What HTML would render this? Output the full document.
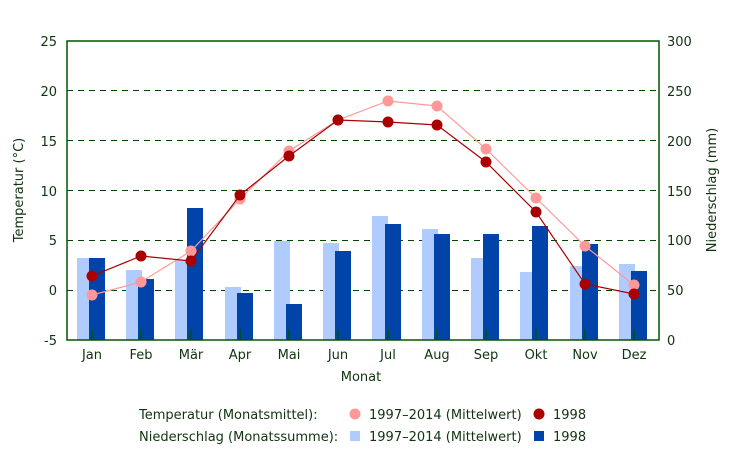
<!DOCTYPE html><html><head><meta charset="utf-8"><style>body{margin:0;background:#fff}svg{display:block}text{font-family:"DejaVu Sans","Liberation Sans",sans-serif;font-size:13px;fill:#113311}</style></head><body>
<svg width="733" height="461" xmlns="http://www.w3.org/2000/svg">
<g stroke="#004400" stroke-dasharray="6,5" stroke-width="1">
<line x1="67" x2="659" y1="90.5" y2="90.5"/><line x1="67" x2="659" y1="140.5" y2="140.5"/><line x1="67" x2="659" y1="190.5" y2="190.5"/><line x1="67" x2="659" y1="240.5" y2="240.5"/><line x1="67" x2="659" y1="290.5" y2="290.5"/>
</g>
<g fill="#b0ccff">
<rect x="77" y="258" width="16" height="82"/><rect x="126" y="270" width="16" height="70"/><rect x="175" y="260" width="16" height="80"/><rect x="225" y="287" width="16" height="53"/><rect x="274" y="241" width="16" height="99"/><rect x="323" y="243" width="16" height="97"/><rect x="372" y="216" width="16" height="124"/><rect x="422" y="229" width="16" height="111"/><rect x="471" y="258" width="16" height="82"/><rect x="520" y="272" width="16" height="68"/><rect x="570" y="266" width="16" height="74"/><rect x="619" y="264" width="16" height="76"/>
</g>
<g fill="#0044aa">
<rect x="89" y="258" width="16" height="82"/><rect x="138" y="279" width="16" height="61"/><rect x="187" y="208" width="16" height="132"/><rect x="237" y="293" width="16" height="47"/><rect x="286" y="304" width="16" height="36"/><rect x="335" y="251" width="16" height="89"/><rect x="385" y="224" width="16" height="116"/><rect x="434" y="234" width="16" height="106"/><rect x="483" y="234" width="16" height="106"/><rect x="532" y="226" width="16" height="114"/><rect x="582" y="244" width="16" height="96"/><rect x="631" y="271" width="16" height="69"/>
</g>
<g stroke="#005500" stroke-width="1.5">
<line x1="92" x2="92" y1="329" y2="340"/><line x1="141" x2="141" y1="329" y2="340"/><line x1="191" x2="191" y1="329" y2="340"/><line x1="240" x2="240" y1="329" y2="340"/><line x1="289" x2="289" y1="329" y2="340"/><line x1="338" x2="338" y1="329" y2="340"/><line x1="388" x2="388" y1="329" y2="340"/><line x1="437" x2="437" y1="329" y2="340"/><line x1="486" x2="486" y1="329" y2="340"/><line x1="536" x2="536" y1="329" y2="340"/><line x1="585" x2="585" y1="329" y2="340"/><line x1="634" x2="634" y1="329" y2="340"/>
</g>
<polyline fill="none" stroke="#ff9999" stroke-width="1.2" points="92,295 141,282 191,251 240,199 289,151 338,120 388,101 437,106 486,149 536,198 585,246 634,285"/>
<g fill="#ff9999"><circle cx="92" cy="295" r="5.5"/><circle cx="141" cy="282" r="5.5"/><circle cx="191" cy="251" r="5.5"/><circle cx="240" cy="199" r="5.5"/><circle cx="289" cy="151" r="5.5"/><circle cx="338" cy="120" r="5.5"/><circle cx="388" cy="101" r="5.5"/><circle cx="437" cy="106" r="5.5"/><circle cx="486" cy="149" r="5.5"/><circle cx="536" cy="198" r="5.5"/><circle cx="585" cy="246" r="5.5"/><circle cx="634" cy="285" r="5.5"/></g>
<polyline fill="none" stroke="#aa0000" stroke-width="1.2" points="92,276 141,256 191,261 240,195 289,156 338,120 388,122 437,125 486,162 536,212 585,284 634,294"/>
<g fill="#aa0000"><circle cx="92" cy="276" r="5.5"/><circle cx="141" cy="256" r="5.5"/><circle cx="191" cy="261" r="5.5"/><circle cx="240" cy="195" r="5.5"/><circle cx="289" cy="156" r="5.5"/><circle cx="338" cy="120" r="5.5"/><circle cx="388" cy="122" r="5.5"/><circle cx="437" cy="125" r="5.5"/><circle cx="486" cy="162" r="5.5"/><circle cx="536" cy="212" r="5.5"/><circle cx="585" cy="284" r="5.5"/><circle cx="634" cy="294" r="5.5"/></g>
<rect x="67" y="41" width="592" height="299" fill="none" stroke="#005500" stroke-width="1.5"/>
<g text-anchor="end">
<text x="57" y="46">25</text><text x="57" y="96">20</text><text x="57" y="146">15</text><text x="57" y="196">10</text><text x="57" y="245">5</text><text x="57" y="295">0</text><text x="57" y="345">-5</text>
</g>
<g>
<text x="667" y="46">300</text><text x="667" y="96">250</text><text x="667" y="146">200</text><text x="667" y="196">150</text><text x="667" y="245">100</text><text x="667" y="295">50</text><text x="667" y="345">0</text>
</g>
<g text-anchor="middle">
<text x="92" y="359">Jan</text><text x="141" y="359">Feb</text><text x="191" y="359">Mär</text><text x="240" y="359">Apr</text><text x="289" y="359">Mai</text><text x="338" y="359">Jun</text><text x="388" y="359">Jul</text><text x="437" y="359">Aug</text><text x="486" y="359">Sep</text><text x="536" y="359">Okt</text><text x="585" y="359">Nov</text><text x="634" y="359">Dez</text>
<text x="361" y="381">Monat</text>
<text transform="translate(23,190) rotate(-90)">Temperatur (°C)</text>
<text transform="translate(716,190) rotate(-90)">Niederschlag (mm)</text>
</g>
<text x="139" y="419">Temperatur (Monatsmittel):</text>
<text x="139" y="441">Niederschlag (Monatssumme):</text>
<circle cx="355" cy="414" r="5.5" fill="#ff9999"/><text x="369" y="419">1997–2014 (Mittelwert)</text>
<circle cx="539" cy="414" r="5.5" fill="#aa0000"/><text x="553" y="419">1998</text>
<rect x="350" y="431" width="10" height="10" fill="#b0ccff"/><text x="369" y="441">1997–2014 (Mittelwert)</text>
<rect x="534" y="431" width="10" height="10" fill="#0044aa"/><text x="553" y="441">1998</text>
</svg></body></html>
